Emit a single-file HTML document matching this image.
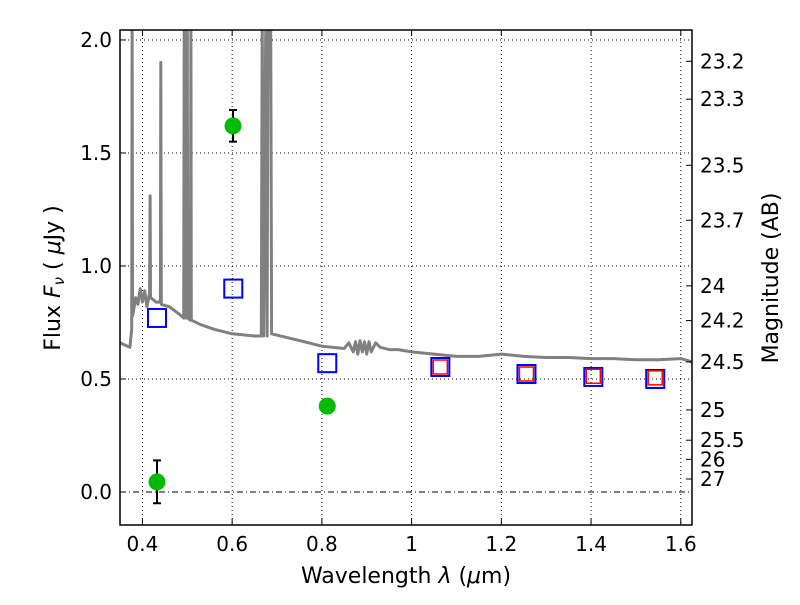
<!DOCTYPE html>
<html><head><meta charset="utf-8"><style>
body{margin:0;background:#fff}
svg text{font-family:"DejaVu Sans","Liberation Sans",sans-serif;fill:#000}
</style></head><body>
<svg id="chart" width="800" height="600">
<defs><clipPath id="pc"><rect x="120" y="30" width="572" height="495"/></clipPath></defs>
<g id="grid"></g><g id="spec" clip-path="url(#pc)"></g><g id="marks"></g><g id="axes"></g>
</svg>
<script>
const xTicks=[0.4,0.6,0.8,1.0,1.2,1.4,1.6];
const xTickLabels=["0.4","0.6","0.8","1","1.2","1.4","1.6"];
const yTicks=[0.0,0.5,1.0,1.5,2.0];
const yTickLabels=["0.0","0.5","1.0","1.5","2.0"];
const magTicks=[23.2,23.3,23.5,23.7,24,24.2,24.5,25,25.5,26,27];
const specLam=[0.35,0.372,0.376,0.377,0.378,0.38,0.385,0.39,0.395,0.40,0.405,0.41,0.416,0.417,0.418,0.425,0.43,0.440,0.441,0.442,0.46,0.48,0.492,0.493,0.494,0.499,0.500,0.501,0.507,0.508,0.509,0.53,0.56,0.60,0.65,0.665,0.667,0.670,0.675,0.678,0.680,0.686,0.688,0.75,0.80,0.85,0.86,0.87,0.875,0.88,0.885,0.89,0.895,0.90,0.905,0.91,0.92,0.93,0.95,0.97,1.0,1.05,1.1,1.15,1.2,1.25,1.3,1.35,1.4,1.45,1.5,1.55,1.6,1.625];
const specFlux=[0.66,0.64,0.72,2.1,0.78,0.80,0.86,0.83,0.90,0.84,0.89,0.82,0.88,1.31,0.86,0.85,0.84,0.84,1.9,0.83,0.82,0.79,0.77,2.1,0.77,0.77,2.1,0.77,0.76,2.1,0.76,0.74,0.72,0.70,0.69,0.69,2.1,0.69,2.1,0.69,2.1,2.1,0.70,0.67,0.645,0.635,0.66,0.62,0.665,0.61,0.67,0.62,0.665,0.61,0.665,0.62,0.66,0.64,0.63,0.63,0.62,0.61,0.60,0.60,0.61,0.60,0.595,0.595,0.59,0.59,0.585,0.585,0.59,0.575];
const photLam=[0.4325,0.602,0.812];
const photFlux=[0.045,1.62,0.38];
const photErr=[0.095,0.07,0.03];
const modelLam=[0.4325,0.6025,0.812,1.064,1.256,1.405,1.543];
const modelFlux=[0.77,0.90,0.57,0.553,0.522,0.509,0.50];
const model2Lam=[1.064,1.256,1.405,1.543];
const model2Flux=[0.553,0.522,0.512,0.505];
const L=120,R=692,T=30,B=525,X0=0.35,X1=1.625,Y0=-0.146,Y1=2.044;
const sx=v=>L+(v-X0)/(X1-X0)*(R-L);
const sy=v=>B-(v-Y0)/(Y1-Y0)*(B-T);
const NS="http://www.w3.org/2000/svg";
function mk(p,tag,a){const e=document.createElementNS(NS,tag);for(const k in a)e.setAttribute(k,a[k]);document.getElementById(p).appendChild(e);return e;}
xTicks.forEach((v,i)=>{
 const g=mk('grid','line',{x1:sx(v),x2:sx(v),y1:T,y2:B,stroke:'#000','stroke-width':1,'stroke-dasharray':'1,3'});
 
 mk('axes','line',{x1:sx(v),x2:sx(v),y1:B,y2:B-6,stroke:'#000'});
 mk('axes','line',{x1:sx(v),x2:sx(v),y1:T,y2:T+6,stroke:'#000'});
 const t=mk('axes','text',{x:sx(v),y:B+26,'text-anchor':'middle','font-size':20});t.textContent=xTickLabels[i];
 
});
yTicks.forEach((v,i)=>{
 const g=mk('grid','line',{x1:L,x2:R,y1:sy(v),y2:sy(v),stroke:'#000','stroke-width':1,'stroke-dasharray':v===0?'6,3,1,3':'1,3'});
 
 mk('axes','line',{x1:L,x2:L+6,y1:sy(v),y2:sy(v),stroke:'#000'});
 const t=mk('axes','text',{x:L-8,y:sy(v)+7,'text-anchor':'end','font-size':20});t.textContent=yTickLabels[i];
 
});
magTicks.forEach(m=>{
 const f=Math.pow(10,(23.9-m)/2.5);const y=sy(f);
 mk('axes','line',{x1:R,x2:R-6,y1:y,y2:y,stroke:'#000'});
 const t=mk('axes','text',{x:R+8,y:y+7,'font-size':20});t.textContent=String(m);
 
});
const d=specLam.map((l,i)=>(i?'L':'M')+sx(l).toFixed(1)+','+sy(specFlux[i]).toFixed(1)).join('');
const sp=mk('spec','path',{d:d,fill:'none',stroke:'#808080','stroke-width':3,'stroke-linejoin':'round'});

modelLam.forEach((l,i)=>{
 const r=mk('marks','rect',{x:sx(l)-9,y:sy(modelFlux[i])-9,width:18,height:18,fill:'none',stroke:'#0000ff','stroke-width':2});
 
});
model2Lam.forEach((l,i)=>{
 const r=mk('marks','rect',{x:sx(l)-7,y:sy(model2Flux[i])-7,width:14,height:14,fill:'none',stroke:'#ff0000','stroke-width':1.5});
 
});
photLam.forEach((l,i)=>{
 const x=sx(l),y1=sy(photFlux[i]+photErr[i]),y2=sy(photFlux[i]-photErr[i]);
 const e=mk('marks','path',{d:`M${x},${y1}L${x},${y2}M${x-4},${y1}L${x+4},${y1}M${x-4},${y2}L${x+4},${y2}`,stroke:'#000','stroke-width':2,fill:'none'});
 
 const c=mk('marks','circle',{cx:x,cy:sy(photFlux[i]),r:8,fill:'#00bb00',stroke:'#00bb00'});
 
});
const fr=mk('axes','rect',{x:L,y:T,width:R-L,height:B-T,fill:'none',stroke:'#000','stroke-width':1.5});

let t=mk('axes','text',{x:406,y:583,'text-anchor':'middle','font-size':22});
t.innerHTML='Wavelength  <tspan font-style="italic">λ</tspan> (<tspan font-style="italic">μ</tspan>m)';

t=mk('axes','text',{x:0,y:0,'text-anchor':'middle','font-size':22,transform:'translate(60,278) rotate(-90)'});
t.innerHTML='Flux  <tspan font-style="italic">F</tspan><tspan font-style="italic" font-size="15" dy="4">ν</tspan><tspan dy="-4">  ( </tspan><tspan font-style="italic">μ</tspan>Jy )';

t=mk('axes','text',{x:0,y:0,'text-anchor':'middle','font-size':22,transform:'translate(778,278) rotate(-90)'});
t.textContent='Magnitude (AB)';

</script>
</body></html>
